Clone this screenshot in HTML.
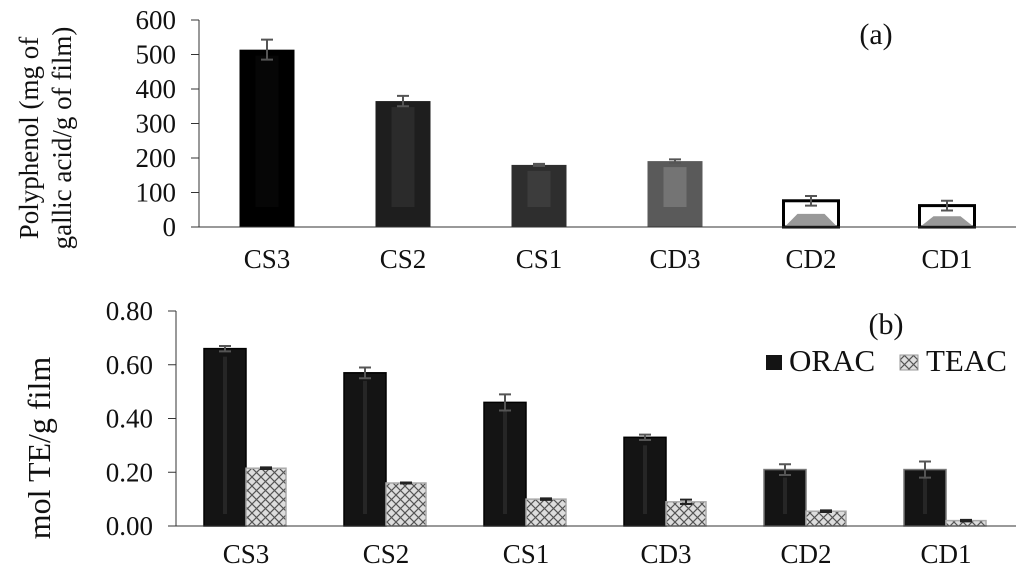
<!DOCTYPE html>
<html><head><meta charset="utf-8"><style>
html,body{margin:0;padding:0;background:#fff;}
svg{display:block;font-family:"Liberation Serif",serif;}
</style></head><body>
<svg id="chart" width="1024" height="577" viewBox="0 0 1024 577" xmlns="http://www.w3.org/2000/svg">
<defs>
<pattern id="hatch" width="9" height="9" patternUnits="userSpaceOnUse">
<rect width="9" height="9" fill="#ddd"/>
<path d="M0,0L9,9M9,0L0,9" stroke="#555" stroke-width="1.2"/>
</pattern>
</defs>
<g id="ga"></g>
<g id="gb"></g>
</svg>
<script>
const catsA = ["CS3","CS2","CS1","CD3","CD2","CD1"];
const polyVals = [514, 365, 180, 191, 76, 62];
const polyErr = [29, 15, 3, 5, 14, 14];
const ticksA = [0,100,200,300,400,500,600];
const catsB = ["CS3","CS2","CS1","CD3","CD2","CD1"];
const oracVals = [0.66, 0.57, 0.46, 0.33, 0.21, 0.21];
const oracErr = [0.01, 0.02, 0.03, 0.01, 0.02, 0.03];
const teacVals = [0.215, 0.16, 0.10, 0.09, 0.055, 0.02];
const teacErr = [0.003, 0.002, 0.003, 0.008, 0.003, 0.003];
const ticksB = [0.00,0.20,0.40,0.60,0.80];

const NS="http://www.w3.org/2000/svg";
function mk(parent,tag,attrs,text){const e=document.createElementNS(NS,tag);for(const k in attrs)e.setAttribute(k,attrs[k]);if(text!==undefined)e.textContent=text;parent.appendChild(e);return e;}

// ---- Chart A ----
const ga=document.getElementById('ga');
const yA=v=>227-v*(207/600);
const xA=i=>267+i*136;
const fillsA=[["#000","#080808"],["#1e1e1e","#2e2e2e"],["#2e2e2e","#404040"],["#5a5a5a","#7a7a7a"],["#fff","#999"],["#fff","#999"]];
ticksA.forEach(t=>{
  const tl=mk(ga,'text',{x:176,y:yA(t)+9,'text-anchor':'end','font-size':27,fill:'#111'},String(t));
  
  
  mk(ga,'line',{x1:191,x2:199,y1:yA(t),y2:yA(t),stroke:'#333','stroke-width':1});
});
catsA.forEach((c,i)=>{
  const v=polyVals[i],x=xA(i)-27.5,w=55,top=yA(v),h=yA(0)-top;
  const g=mk(ga,'g',{});
  
  
  const light=i>=4;
  mk(g,'rect',{x:x,y:top,width:w,height:h,fill:fillsA[i][0],stroke:light?'#000':'none','stroke-width':light?3:0});
  if(h>20 && !light){
    mk(g,'rect',{x:x+16,y:top+6,width:w-32,height:Math.max(h-26,0),fill:fillsA[i][1],opacity:0.8});
  }
  if(light){mk(g,'polygon',{points:`${x+3},${yA(0)-2} ${x+w-3},${yA(0)-2} ${x+w-14},${top+h/2} ${x+14},${top+h/2}`,fill:'#999'});}
  const e1=yA(v+polyErr[i]),e2=yA(v-polyErr[i]),cx=xA(i);
  const eb=mk(ga,'path',{d:`M${cx},${e1}V${e2}M${cx-6},${e1}H${cx+6}M${cx-6},${e2}H${cx+6}`,stroke:'#555','stroke-width':2,fill:'none'});
  
  
  const lb=mk(ga,'text',{x:cx,y:268,'text-anchor':'middle','font-size':27,fill:'#111'},c);
  
  
});
mk(ga,'line',{x1:199,x2:199,y1:yA(600),y2:yA(0),stroke:'#333','stroke-width':1});
mk(ga,'line',{x1:191,x2:1016,y1:yA(0),y2:yA(0),stroke:'#333','stroke-width':1});
const ta=mk(ga,'text',{'font-size':27,fill:'#111','text-anchor':'middle'});


ta.setAttribute('transform','translate(38,138) rotate(-90)');
mk(ta,'tspan',{x:0,dy:0},'Polyphenol (mg of');
mk(ta,'tspan',{x:0,dy:33},'gallic acid/g of film)');
const pa=mk(ga,'text',{x:876,y:44,'text-anchor':'middle','font-size':30,fill:'#111'},'(a)');



// ---- Chart B ----
const gb=document.getElementById('gb');
const yB=v=>526-v*(215/0.8);
const xB=i=>246+i*140;
ticksB.forEach(t=>{
  const tl=mk(gb,'text',{x:153,y:yB(t)+9,'text-anchor':'end','font-size':27,fill:'#111'},t.toFixed(2));
  
  
  mk(gb,'line',{x1:168,x2:176,y1:yB(t),y2:yB(t),stroke:'#333','stroke-width':1});
});
catsB.forEach((c,i)=>{
  const cx=xB(i);
  let v=oracVals[i],top=yB(v),h=yB(0)-top;
  const go=mk(gb,'g',{});
  
  
  mk(go,'rect',{x:cx-42,y:top,width:42,height:h,fill:'#141414',stroke:i>=4?'#777':'#000','stroke-width':1.5});
  mk(go,'rect',{x:cx-23,y:top+8,width:4,height:Math.max(h-20,0),fill:'#262626'});
  let e1=yB(v+oracErr[i]),e2=yB(v-oracErr[i]),ex=cx-21;
  const eo=mk(gb,'path',{d:`M${ex},${e1}V${e2}M${ex-6},${e1}H${ex+6}M${ex-6},${e2}H${ex+6}`,stroke:'#555','stroke-width':2,fill:'none'});
  
  
  v=teacVals[i];top=yB(v);h=yB(0)-top;
  const gt=mk(gb,'rect',{x:cx,y:top,width:40,height:h,fill:'url(#hatch)',stroke:'#aaa','stroke-width':1.5});
  
  
  e1=yB(v+teacErr[i]);e2=yB(v-teacErr[i]);ex=cx+20;
  const et=mk(gb,'path',{d:`M${ex},${e1}V${e2}M${ex-6},${e1}H${ex+6}M${ex-6},${e2}H${ex+6}`,stroke:'#222','stroke-width':2,fill:'none'});
  
  
  const lb=mk(gb,'text',{x:cx,y:563,'text-anchor':'middle','font-size':27,fill:'#111'},c);
  
  
});
mk(gb,'line',{x1:176,x2:176,y1:yB(0.8),y2:yB(0),stroke:'#333','stroke-width':1});
mk(gb,'line',{x1:168,x2:1016,y1:yB(0),y2:yB(0),stroke:'#333','stroke-width':1});
const tb=mk(gb,'text',{'font-size':32,fill:'#111','text-anchor':'middle',transform:'translate(50,448) rotate(-90)'},'mol TE/g film');


const pb=mk(gb,'text',{x:886,y:334,'text-anchor':'middle','font-size':30,fill:'#111'},'(b)');


const l1=mk(gb,'g',{});


mk(l1,'rect',{x:766,y:355,width:16,height:15,fill:'#141414'});
mk(l1,'text',{x:789,y:371,'font-size':31,fill:'#111'},'ORAC');
const l2=mk(gb,'g',{});


mk(l2,'rect',{x:900,y:355,width:18,height:15,fill:'url(#hatch)',stroke:'#999'});
mk(l2,'text',{x:926,y:371,'font-size':31,fill:'#111'},'TEAC');
</script>
</body></html>
